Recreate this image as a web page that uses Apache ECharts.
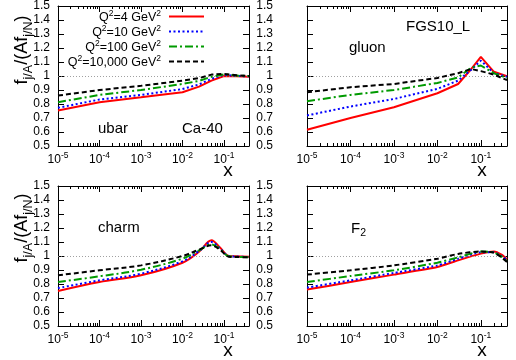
<!DOCTYPE html>
<html>
<head>
<meta charset="utf-8">
<script src="https://cdn.jsdelivr.net/npm/echarts@6/dist/echarts.min.js"></script>
<style>
  html, body { margin: 0; padding: 0; background: #fff; }
  #main { width: 516px; height: 360px; }
</style>
</head>
<body>
<div id="main"></div>
<script>
// series names / legend labels
var qNames = ['Q2=4 GeV2', 'Q2=10 GeV2', 'Q2=100 GeV2', 'Q2=10,000 GeV2'];
var qLabels = ['4', '10', '100', '10,000'];

// ubar, Ca-40
var ubarX = [1e-5, 1e-4, 1e-3, 1e-2, 0.025, 0.05, 0.1, 0.2, 0.4];
var ubarQ4 = [0.754, 0.813, 0.848, 0.884, 0.924, 0.967, 1.0, 0.998, 0.995];
var ubarQ10 = [0.773, 0.832, 0.865, 0.907, 0.94, 0.98, 1.01, 1.0, 0.998];
var ubarQ100 = [0.813, 0.865, 0.9, 0.943, 0.965, 0.995, 1.012, 1.003, 1.0];
var ubarQ10k = [0.86, 0.9, 0.93, 0.967, 0.985, 1.01, 1.015, 1.005, 1.0];

// gluon
var gluonX = [1e-5, 1e-4, 1e-3, 1e-2, 0.03, 0.06, 0.1, 0.2, 0.4];
var gluonQ4 = [0.616, 0.7, 0.777, 0.877, 0.943, 1.05, 1.137, 1.03, 0.998];
var gluonQ10 = [0.718, 0.782, 0.836, 0.908, 0.967, 1.045, 1.11, 1.02, 0.995];
var gluonQ100 = [0.82, 0.865, 0.9, 0.95, 0.99, 1.06, 1.075, 1.02, 0.986];
var gluonQ10k = [0.884, 0.92, 0.943, 0.986, 1.02, 1.05, 1.035, 1.01, 0.97];

// charm
var charmX = [1e-5, 1e-4, 1e-3, 1e-2, 0.025, 0.05, 0.08, 0.13, 0.2, 0.4];
var charmQ4 = [0.75, 0.814, 0.862, 0.952, 1.03, 1.112, 1.06, 1.0, 0.998, 0.995];
var charmQ10 = [0.771, 0.826, 0.874, 0.962, 1.035, 1.1, 1.055, 1.0, 0.996, 0.993];
var charmQ100 = [0.814, 0.855, 0.902, 0.981, 1.04, 1.083, 1.05, 0.998, 0.995, 0.99];
var charmQ10k = [0.862, 0.898, 0.933, 1.0, 1.045, 1.076, 1.045, 0.995, 0.993, 0.99];

// F2
var f2X = [1e-5, 1e-4, 1e-3, 1e-2, 0.03, 0.1, 0.2, 0.3, 0.4];
var f2Q4 = [0.76, 0.814, 0.867, 0.921, 0.969, 1.017, 1.033, 1.01, 0.976];
var f2Q10 = [0.774, 0.826, 0.879, 0.933, 0.98, 1.026, 1.026, 1.0, 0.969];
var f2Q100 = [0.814, 0.857, 0.898, 0.952, 0.99, 1.033, 1.025, 0.995, 0.964];
var f2Q10k = [0.867, 0.898, 0.933, 0.981, 1.015, 1.033, 1.024, 0.99, 0.957];

// axis ticks
var xMajorExp = [-5, -4, -3, -2, -1];
var xMin = 1e-5, xMax = 0.4;
var yTicks = [0.5, 0.6, 0.7, 0.8, 0.9, 1, 1.1, 1.2, 1.3, 1.4, 1.5];

var panels = [
  { x: ubarX, ys: [ubarQ4, ubarQ10, ubarQ100, ubarQ10k], grid: { left: 58, top: 5, width: 191, height: 141 }, labelMargin: 8, smooth: false },
  { x: gluonX, ys: [gluonQ4, gluonQ10, gluonQ100, gluonQ10k], grid: { left: 307, top: 5, width: 200, height: 141 }, labelMargin: 34, smooth: false },
  { x: charmX, ys: [charmQ4, charmQ10, charmQ100, charmQ10k], grid: { left: 58, top: 186, width: 191, height: 140 }, labelMargin: 8, smooth: 0.35 },
  { x: f2X, ys: [f2Q4, f2Q10, f2Q100, f2Q10k], grid: { left: 307, top: 186, width: 200, height: 140 }, labelMargin: 34, smooth: 0.2 }
];

var colors = ['#ff0000', '#0000ff', '#009a00', '#000000'];
var dashes = ['solid', [2, 2.5], [8, 3, 2, 3], [5, 3]];
var font = 'Liberation Sans, Arial, Helvetica, sans-serif';

var lgMin = Math.log10(xMin), lgMax = Math.log10(xMax);
var minorVals = [];
xMajorExp.forEach(function (d) {
  for (var k = 2; k <= 9; k++) {
    var v = Math.log10(k) + d;
    if (v < lgMax) minorVals.push(v);
  }
});

var grids = [], xAxes = [], yAxes = [], series = [];

panels.forEach(function (p, i) {
  grids.push(p.grid);
  var base = { gridIndex: i, type: 'value', min: lgMin, max: lgMax, splitLine: { show: false } };
  // bottom major with labels
  xAxes.push(Object.assign({}, base, {
    position: 'bottom',
    axisLine: { show: true, onZero: false, lineStyle: { color: '#000', width: 1 } },
    axisTick: { inside: true, length: 6, customValues: xMajorExp, lineStyle: { color: '#000' } },
    axisLabel: {
      customValues: xMajorExp, margin: 5, color: '#000',
      formatter: function (v) { return '{b|10}{s|' + Math.round(v) + '}'; },
      rich: {
        b: { fontFamily: font, fontSize: 12, lineHeight: 15, verticalAlign: 'bottom', color: '#000' },
        s: { fontFamily: font, fontSize: 8.5, lineHeight: 9, verticalAlign: 'top', color: '#000' }
      }
    }
  }));
  // bottom minor
  xAxes.push(Object.assign({}, base, {
    position: 'bottom', axisLine: { show: false }, axisLabel: { show: false },
    axisTick: { inside: true, length: 3, customValues: minorVals, lineStyle: { color: '#000' } }
  }));
  // top major
  xAxes.push(Object.assign({}, base, {
    position: 'top', axisLabel: { show: false },
    axisLine: { show: true, onZero: false, lineStyle: { color: '#000', width: 1 } },
    axisTick: { inside: true, length: 6, customValues: xMajorExp, lineStyle: { color: '#000' } }
  }));
  // top minor
  xAxes.push(Object.assign({}, base, {
    position: 'top', axisLine: { show: false }, axisLabel: { show: false },
    axisTick: { inside: true, length: 3, customValues: minorVals, lineStyle: { color: '#000' } }
  }));

  var ybase = { gridIndex: i, type: 'value', min: 0.5, max: 1.5, splitLine: { show: false } };
  yAxes.push(Object.assign({}, ybase, {
    position: 'left',
    axisLine: { show: true, onZero: false, lineStyle: { color: '#000', width: 1 } },
    axisTick: { inside: true, length: 6, customValues: yTicks, lineStyle: { color: '#000' } },
    axisLabel: {
      customValues: yTicks, margin: p.labelMargin, color: '#000', fontFamily: font, fontSize: 12,
      formatter: function (v) { return String(+v.toFixed(1)); }
    }
  }));
  yAxes.push(Object.assign({}, ybase, {
    position: 'right', axisLabel: { show: false },
    axisLine: { show: true, onZero: false, lineStyle: { color: '#000', width: 1 } },
    axisTick: { inside: true, length: 6, customValues: yTicks, lineStyle: { color: '#000' } }
  }));

  p.ys.forEach(function (ys, k) {
    var s = {
      name: qNames[k],
      type: 'line',
      xAxisIndex: 4 * i,
      yAxisIndex: 2 * i,
      symbol: 'none',
      smooth: p.smooth,
      data: p.x.map(function (x, j) { return [Math.log10(x), ys[j]]; }),
      lineStyle: { color: colors[k], width: 2, type: dashes[k] },
      itemStyle: { color: colors[k] },
      z: 3 + k
    };
    if (k === 0) {
      s.markLine = {
        silent: true, symbol: 'none', label: { show: false }, animation: false,
        lineStyle: { color: '#888', width: 0.8, type: [1, 2] },
        data: [{ yAxis: 1 }]
      };
    }
    series.push(s);
  });
});

var legendRich = {
  t: { fontFamily: font, fontSize: 12.5, lineHeight: 15, verticalAlign: 'bottom', color: '#000' },
  s: { fontFamily: font, fontSize: 8.5, lineHeight: 9, verticalAlign: 'top', color: '#000' },
  g: { width: 3 }
};
var legends = qNames.map(function (n, i) {
  return {
    data: [n], orient: 'vertical', align: 'right', right: 311, top: 9 + 15 * i,
    itemWidth: 35, itemHeight: 12, padding: 0, selectedMode: false,
    itemStyle: { opacity: 0 },
    formatter: function () { return '{t|Q}{s|2}{t|=' + qLabels[i] + ' GeV}{s|2}{g|}'; },
    textStyle: { rich: legendRich }
  };
});

var subRich = {
  m: { fontFamily: font, fontSize: 18, lineHeight: 22, verticalAlign: 'top', color: '#000' },
  u: { fontFamily: font, fontSize: 12.5, lineHeight: 12, verticalAlign: 'bottom', color: '#000' }
};
var yTitle = '{m|f}{u|j/A}{m|/(Af}{u|j/N}{m|)}';

function txt(x, y, text, size, align) {
  return { type: 'text', x: x, y: y, style: { text: text, fontFamily: font, fontSize: size, fill: '#000', align: align || 'left', verticalAlign: 'middle' } };
}

var graphics = [
  { type: 'text', x: 24, y: 50, rotation: Math.PI / 2, style: { text: yTitle, rich: subRich, align: 'center', verticalAlign: 'middle' } },
  { type: 'text', x: 24, y: 228, rotation: Math.PI / 2, style: { text: yTitle, rich: subRich, align: 'center', verticalAlign: 'middle' } },
  txt(228, 171, 'x', 19, 'center'),
  txt(482, 171, 'x', 19, 'center'),
  txt(228, 351, 'x', 19, 'center'),
  txt(482, 351, 'x', 19, 'center'),
  txt(98, 129, 'ubar', 15),
  txt(182, 129, 'Ca-40', 15),
  txt(406, 27, 'FGS10_L', 15),
  txt(349, 48, 'gluon', 15),
  txt(98, 228, 'charm', 15),
  { type: 'text', x: 351, y: 230, style: { text: '{a|F}{b|2}', verticalAlign: 'middle',
      rich: { a: { fontFamily: font, fontSize: 15, lineHeight: 18, verticalAlign: 'top', color: '#000' },
              b: { fontFamily: font, fontSize: 10.5, lineHeight: 10, verticalAlign: 'bottom', color: '#000' } } } }
];

var chart = echarts.init(document.getElementById('main'), null, { renderer: 'canvas' });
chart.setOption({
  animation: false,
  backgroundColor: '#fff',
  grid: grids,
  xAxis: xAxes,
  yAxis: yAxes,
  legend: legends,
  series: series,
  graphic: graphics
});
</script>
</body>
</html>
